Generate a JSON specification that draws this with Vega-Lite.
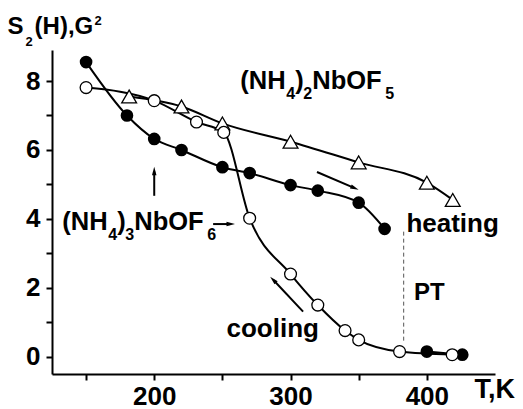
{
  "$schema": "https://vega.github.io/schema/vega-lite/v6.json",
  "width": 443,
  "height": 324,
  "autosize": "none",
  "padding": {"left": 52, "top": 50, "right": 28, "bottom": 35},
  "background": "white",
  "config": {
    "view": {"stroke": null},
    "font": "Liberation Sans",
    "text": {"font": "Liberation Sans", "fontWeight": "bold", "color": "black", "align": "left", "baseline": "alphabetic"},
    "axis": {
      "grid": false,
      "title": null,
      "domainColor": "black",
      "domainWidth": 2,
      "tickColor": "black",
      "tickWidth": 2,
      "tickSize": 6,
      "labelFont": "Liberation Sans",
      "labelFontSize": 26,
      "labelFontWeight": "bold",
      "labelColor": "black",
      "labelOverlap": false,
      "labelFlush": false
    }
  },
  "datasets": {
    "heating1": [
      {"T": 150, "S": 8.55}, {"T": 180, "S": 7.0}, {"T": 200, "S": 6.32}, {"T": 220, "S": 6.0},
      {"T": 250, "S": 5.5}, {"T": 270, "S": 5.33}, {"T": 300, "S": 4.98}, {"T": 320, "S": 4.82},
      {"T": 350, "S": 4.47}, {"T": 369, "S": 3.71}
    ],
    "heating2": [
      {"T": 400, "S": 0.15}, {"T": 426, "S": 0.06}
    ],
    "cooling": [
      {"T": 150, "S": 7.81}, {"T": 200, "S": 7.43}, {"T": 231, "S": 6.81}, {"T": 251, "S": 6.51},
      {"T": 270, "S": 4.02}, {"T": 300, "S": 2.4}, {"T": 320, "S": 1.5}, {"T": 340, "S": 0.76},
      {"T": 350, "S": 0.49}, {"T": 380, "S": 0.15}, {"T": 418.6, "S": 0.06}
    ],
    "tri": [
      {"T": 181.6, "S": 7.55}, {"T": 220, "S": 7.26}, {"T": 250, "S": 6.77}, {"T": 300, "S": 6.24},
      {"T": 350, "S": 5.64}, {"T": 400, "S": 5.05}, {"T": 419, "S": 4.55}
    ],
    "arrows": [
      {"T": 200, "S": 4.67, "T2": 200, "S2": 5.37},
      {"T": 243.2, "S": 3.85, "T2": 255.6, "S2": 3.85},
      {"T": 319.4, "S": 5.36, "T2": 346.6, "S2": 4.9},
      {"T": 309.2, "S": 1.31, "T2": 287.6, "S2": 2.22}
    ],
    "pt": [
      {"T": 383, "S": 3.63, "T2": 383, "S2": 0.4}
    ],
    "formula": [
      {"T": 263.1, "S": 7.76, "n": "2", "m": "5"},
      {"T": 132.5, "S": 3.68, "n": "3", "m": "6"}
    ],
    "ylabel": [
      {"T": 92.4, "S": 9.36}
    ]
  },
  "encoding": {
    "x": {
      "field": "T", "type": "quantitative",
      "scale": {"domain": [125, 450], "nice": false, "zero": false},
      "axis": {"values": [150, 200, 250, 300, 350, 400], "labelExpr": "datum.value % 100 == 0 ? datum.label : ''", "labelPadding": 3}
    },
    "y": {
      "field": "S", "type": "quantitative",
      "scale": {"domain": [-0.5, 8.9], "nice": false, "zero": false},
      "axis": {"values": [0, 1, 2, 3, 4, 5, 6, 7, 8], "labelExpr": "datum.value % 2 == 0 ? datum.label : ''", "labelPadding": 6}
    }
  },
  "layer": [
    {"data": {"name": "pt"}, "mark": {"type": "rule", "color": "#555555", "strokeWidth": 1, "strokeDash": [4, 3]},
     "encoding": {"x2": {"field": "T2"}, "y2": {"field": "S2"}}},
    {"data": {"name": "tri"}, "mark": {"type": "line", "color": "black", "strokeWidth": 2, "interpolate": "monotone"}},
    {"data": {"name": "heating1"}, "mark": {"type": "line", "color": "black", "strokeWidth": 2, "interpolate": "monotone"}},
    {"data": {"name": "heating2"}, "mark": {"type": "line", "color": "black", "strokeWidth": 2}},
    {"data": {"name": "cooling"}, "mark": {"type": "line", "color": "black", "strokeWidth": 2, "interpolate": "monotone"}},
    {"data": {"name": "arrows"}, "mark": {"type": "rule", "color": "black", "strokeWidth": 2},
     "encoding": {"x2": {"field": "T2"}, "y2": {"field": "S2"}}},
    {"data": {"values": [{"T": 200, "S": 5.37}]}, "mark": {"type": "point", "shape": "M0,-1L0.45,0.7L-0.45,0.7Z", "filled": true, "color": "black", "size": 100, "angle": 0, "opacity": 1}},
    {"data": {"values": [{"T": 255.6, "S": 3.85}]}, "mark": {"type": "point", "shape": "M0,-1L0.45,0.7L-0.45,0.7Z", "filled": true, "color": "black", "size": 100, "angle": 90, "opacity": 1}},
    {"data": {"values": [{"T": 346.6, "S": 4.9}]}, "mark": {"type": "point", "shape": "M0,-1L0.45,0.7L-0.45,0.7Z", "filled": true, "color": "black", "size": 100, "angle": 113, "opacity": 1}},
    {"data": {"values": [{"T": 287.6, "S": 2.22}]}, "mark": {"type": "point", "shape": "M0,-1L0.45,0.7L-0.45,0.7Z", "filled": true, "color": "black", "size": 100, "angle": 316, "opacity": 1}},
    {"data": {"name": "tri"}, "mark": {"type": "point", "shape": "triangle-up", "filled": true, "fill": "white", "stroke": "black", "strokeWidth": 1.3, "size": 220, "opacity": 1}},
    {"data": {"name": "heating1"}, "mark": {"type": "point", "shape": "circle", "filled": true, "color": "black", "size": 160, "opacity": 1}},
    {"data": {"name": "heating2"}, "mark": {"type": "point", "shape": "circle", "filled": true, "color": "black", "size": 160, "opacity": 1}},
    {"data": {"name": "cooling"}, "mark": {"type": "point", "shape": "circle", "filled": true, "fill": "white", "stroke": "black", "strokeWidth": 1.3, "size": 140, "opacity": 1}},

    {"data": {"name": "formula"}, "mark": {"type": "text", "text": "(NH", "fontSize": 25.5}},
    {"data": {"name": "formula"}, "mark": {"type": "text", "text": "4", "fontSize": 16, "dx": 46, "dy": 10}},
    {"data": {"name": "formula"}, "mark": {"type": "text", "text": ")", "fontSize": 25.5, "dx": 55}},
    {"data": {"name": "formula"}, "mark": {"type": "text", "fontSize": 16, "dx": 63, "dy": 10}, "encoding": {"text": {"field": "n"}}},
    {"data": {"name": "formula"}, "mark": {"type": "text", "text": "NbOF", "fontSize": 25.5, "dx": 72}},
    {"data": {"name": "formula"}, "mark": {"type": "text", "fontSize": 16, "dx": 145, "dy": 10}, "encoding": {"text": {"field": "m"}}},

    {"data": {"name": "ylabel"}, "mark": {"type": "text", "text": "S", "fontSize": 24}},
    {"data": {"name": "ylabel"}, "mark": {"type": "text", "text": "2", "fontSize": 13, "dx": 18, "dy": 12}},
    {"data": {"name": "ylabel"}, "mark": {"type": "text", "text": "(H),G", "fontSize": 24, "dx": 27}},
    {"data": {"name": "ylabel"}, "mark": {"type": "text", "text": "2", "fontSize": 13, "dx": 87, "dy": -9}},

    {"data": {"values": [
       {"T": 385, "S": 3.62, "label": "heating"},
       {"T": 253, "S": 0.58, "label": "cooling"}
     ]},
     "mark": {"type": "text", "fontSize": 26},
     "encoding": {"text": {"field": "label"}}},
    {"data": {"values": [{"T": 390.5, "S": 1.65, "label": "PT"}]},
     "mark": {"type": "text", "fontSize": 24},
     "encoding": {"text": {"field": "label"}}},
    {"data": {"values": [{"T": 435, "S": -1.19, "label": "T,K"}]},
     "mark": {"type": "text", "fontSize": 27},
     "encoding": {"text": {"field": "label"}}}
  ]
}
